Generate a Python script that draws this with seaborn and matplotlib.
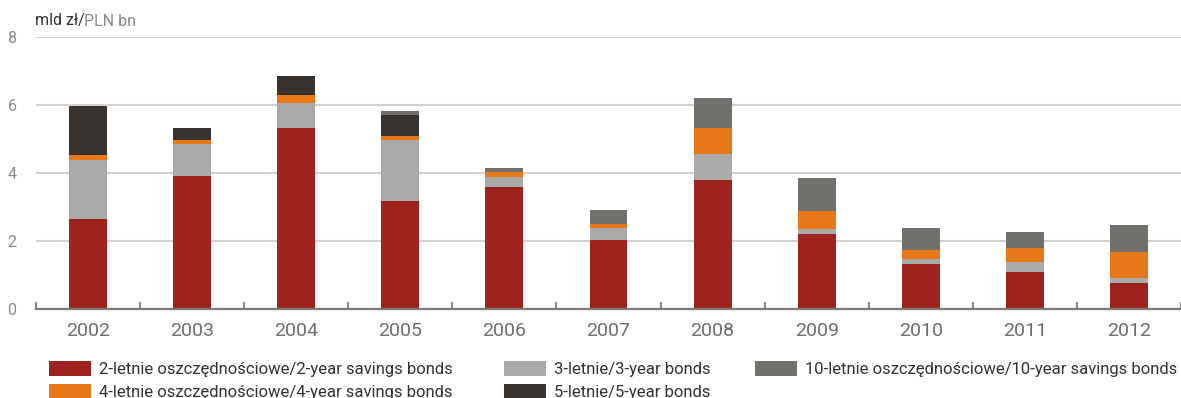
import matplotlib
matplotlib.use("Agg")
import matplotlib.pyplot as plt
from matplotlib.patches import Patch
from matplotlib.ticker import FixedLocator
import seaborn as sns
import numpy as np
import pandas as pd

years = ["2002", "2003", "2004", "2005", "2006", "2007", "2008", "2009", "2010", "2011", "2012"]
two_year_savings = [2.65, 3.91, 5.32, 3.18, 3.59, 2.03, 3.79, 2.21, 1.32, 1.09, 0.76]
three_year = [1.73, 0.94, 0.74, 1.79, 0.29, 0.35, 0.77, 0.14, 0.15, 0.29, 0.15]
four_year_savings = [0.15, 0.12, 0.23, 0.12, 0.15, 0.12, 0.76, 0.53, 0.27, 0.41, 0.77]
five_year = [1.44, 0.35, 0.56, 0.62, 0.00, 0.00, 0.00, 0.00, 0.00, 0.00, 0.00]
ten_year_savings = [0.00, 0.00, 0.00, 0.11, 0.12, 0.41, 0.89, 0.97, 0.64, 0.47, 0.79]

series_labels = [
    "2-letnie oszczędnościowe/2-year savings bonds",
    "3-letnie/3-year bonds",
    "4-letnie oszczędnościowe/4-year savings bonds",
    "5-letnie/5-year bonds",
    "10-letnie oszczędnościowe/10-year savings bonds",
]
series_values = [two_year_savings, three_year, four_year_savings, five_year, ten_year_savings]
series_colors = ["#9e231e", "#aaaaa8", "#e87817", "#38332f", "#72706d"]

sns.set_theme(style="white")
plt.rcParams["font.family"] = ["Roboto", "DejaVu Sans"]

W, H = 1181, 398
fig = plt.figure(figsize=(W / 100, H / 100), dpi=100)
ax = fig.add_axes([36 / W, 1 - 309 / H, 1 - 36 / W, (309 - 37) / H])

bottom = np.zeros(len(years))
for label, vals, color in zip(series_labels, series_values, series_colors):
    df = pd.DataFrame({"year": years, "value": vals})
    sns.barplot(data=df, x="year", y="value", color=color, bottom=bottom,
                width=0.365, ax=ax, errorbar=None, saturation=1, linewidth=0)
    bottom = bottom + np.array(vals)

ax.set_xlim(-0.5, len(years) - 0.5)
ax.set_ylim(0, 8)
ax.set_yticks([0, 2, 4, 6, 8])
ax.set_xlabel("")
ax.set_ylabel("")
ax.grid(axis="y", color="#d2d2d2", linewidth=1.5, zorder=0)
ax.set_axisbelow(True)
for s in ["top", "right", "left"]:
    ax.spines[s].set_visible(False)
ax.spines["bottom"].set_color("#7a7a7a")
ax.spines["bottom"].set_linewidth(1.6)
ax.spines["bottom"].set_zorder(5)

ax.tick_params(axis="y", length=0, pad=14, labelsize=11.5, labelcolor="#8a8a8a")
ax.tick_params(axis="x", which="major", length=0, pad=9, labelsize=14, labelcolor="#6e6e6e")
# small inward separators between the year categories
ax.xaxis.set_minor_locator(FixedLocator(np.arange(-0.5, len(years) + 0.5, 1.0)))
ax.tick_params(axis="x", which="minor", bottom=True, direction="in", length=5,
               width=1.6, color="#8a8a8a")
for t in ax.xaxis.get_minor_ticks():
    t.tick1line.set_clip_on(False)

fig.text(35 / W, 1 - 21 / H, "mld zł/", fontsize=11.5, color="#333333", va="center", ha="left")
fig.text(84 / W, 1 - 21 / H, "PLN bn", fontsize=11.5, color="#8a8a8a", va="center", ha="left")

handles = [Patch(facecolor=c, edgecolor="none") for c in series_colors]
columns = [
    ([0, 2], 49),
    ([1, 3], 504),
    ([4], 755),
]
for idx, xpos in columns:
    fig.legend([handles[i] for i in idx], [series_labels[i] for i in idx],
               loc="upper left", bbox_to_anchor=(xpos / W, 1 - 361 / H),
               frameon=False, fontsize=12, labelcolor="#333333",
               handlelength=2.5, handleheight=1.0, handletextpad=0.5,
               labelspacing=0.4, borderaxespad=0, borderpad=0)

fig.savefig("out.png", dpi=100)
